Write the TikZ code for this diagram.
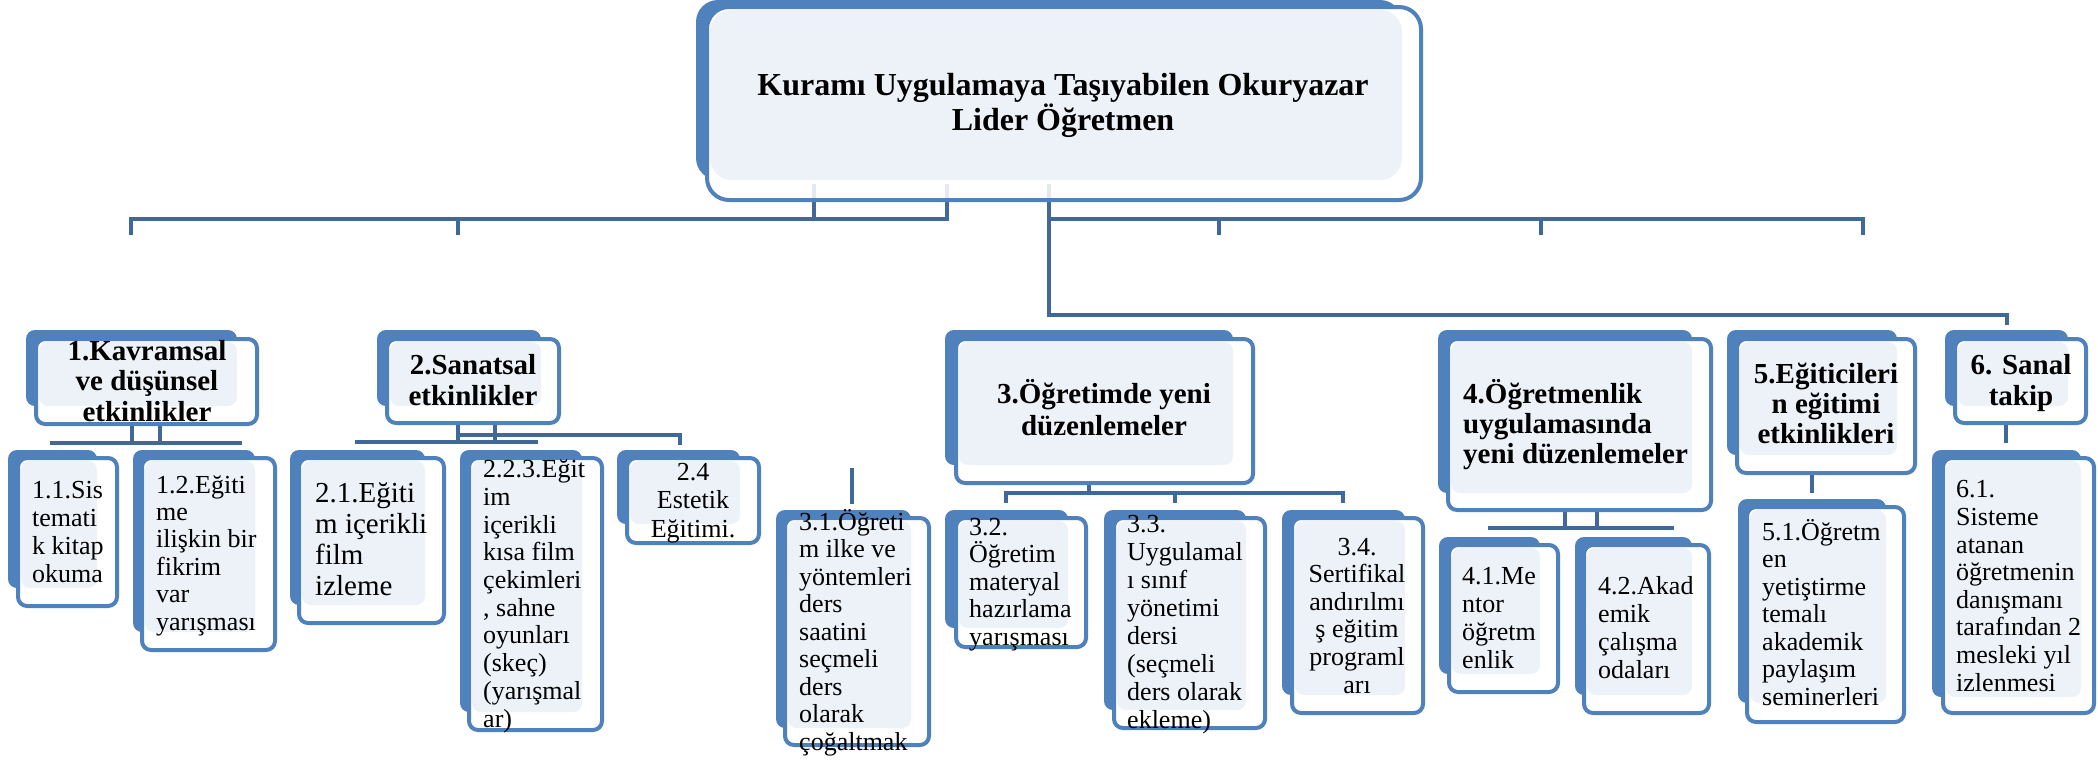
\documentclass[tikz,border=0pt]{standalone}
\usepackage{fontspec}
\setmainfont{Liberation Serif}
\definecolor{boxblue}{RGB}{79,129,189}
\definecolor{conn}{RGB}{64,104,153}
\definecolor{lightfill}{RGB}{237,241,248}
\definecolor{pale}{RGB}{226,233,243}
\def\bxr{9}
% #1 name, #2-#5 back box, #6-#9 outline box
\newcommand\smbox[9]{%
  \fill[boxblue, rounded corners=\bxr] (#2,#3) rectangle (#4,#5);
  \draw[boxblue, line width=4, fill=white, rounded corners=\bxr] (#6,#7) rectangle (#8,#9);
  \fill[lightfill, rounded corners=\bxr] (#6+3,#7+3) rectangle (#4,#5);
  \coordinate (#1-nw) at (#6,#7);
  \coordinate (#1-se) at (#8,#9);
}
% text nodes: anchor "base" = baseline of the LAST line
\tikzset{
  conline/.style={conn, line width=4.5},
  paleline/.style={pale, line width=4.5},
  head/.style={inner sep=0, align=center, anchor=base, font=\bfseries\fontsize{29}{30.5}\selectfont},
  headl/.style={inner sep=0, align=left, anchor=base west, font=\bfseries\fontsize{29}{30}\selectfont},
  sub/.style={inner sep=0, align=left, anchor=base west, font=\fontsize{26}{27.6}\selectfont},
  subc/.style={inner sep=0, align=center, anchor=base, font=\fontsize{26}{28}\selectfont},
}
\begin{document}
\begin{tikzpicture}[x=1pt,y=-1pt]
\useasboundingbox (0,0) rectangle (2098,761);
\fill[white] (0,0) rectangle (2098,761);

% ---------- connectors ----------
\draw[conline] (131,235) -- (131,219) -- (947,219) -- (947,199);
\draw[conline] (458,219) -- (458,235);
\draw[conline] (814,199) -- (814,219);
\draw[conline] (1049,199) -- (1049,315) -- (2007,315) -- (2007,325);
\draw[conline] (1049,219) -- (1863,219) -- (1863,235);
\draw[conline] (1219,219) -- (1219,235);
\draw[conline] (1541,219) -- (1541,235);

% ---------- top box ----------
\def\bxr{22}
\smbox{top}{696}{0}{1402}{180}{707}{7}{1421}{200}
\def\bxr{9}
\draw[paleline] (814,184) -- (814,198);
\draw[paleline] (947,184) -- (947,198);
\draw[paleline] (1049,184) -- (1049,198);
\node[inner sep=0, align=center, font=\bfseries\fontsize{32}{33}\selectfont, anchor=base] (ttop) at (1063,130)
  {Kuramı Uygulamaya Taşıyabilen Okuryazar\\Lider Öğretmen};

% ---------- group 1 ----------
\draw[conline] (132,424) -- (132,443);
\draw[conline] (160,424) -- (160,443);
\draw[conline] (50,443) -- (242,443);
\smbox{b1}{26}{330}{237}{406}{36}{339}{257}{424}
\node[head] (t1) at (147,421) {1.Kavramsal\\ve düşünsel\\etkinlikler};
\smbox{b11}{8}{450}{97}{588}{18}{458}{117}{606}
\node[sub, font=\fontsize{26}{28}\selectfont] (t11) at (32,582) {1.1.Sis\\temati\\k kitap\\okuma};
\smbox{b12}{133}{450}{255}{632}{142}{458}{275}{650}
\node[sub, font=\fontsize{26}{27.4}\selectfont] (t12) at (156,630) {1.2.Eğiti\\me\\ilişkin bir\\fikrim\\var\\yarışması};

% ---------- group 2 ----------
\draw[conline] (458,423) -- (458,442);
\draw[conline] (495,423) -- (495,442);
\draw[conline] (355,442) -- (538,442);
\draw[conline] (458,435) -- (680,435) -- (680,445);
\smbox{b2}{377}{330}{541}{406}{387}{339}{559}{423}
\node[head, font=\bfseries\fontsize{29}{31}\selectfont] (t2) at (473,405) {2.Sanatsal\\etkinlikler};
\smbox{b21}{290}{450}{425}{605}{299}{458}{444}{623}
\node[sub, font=\fontsize{29}{30.7}\selectfont] (t21) at (315,595) {2.1.Eğiti\\m içerikli\\film\\izleme};
\smbox{b223}{460}{450}{582}{712}{469}{458}{602}{730}
\node[sub, font=\fontsize{26}{27.7}\selectfont] (t223) at (483,727) {2.2.3.Eğit\\im\\içerikli\\kısa film\\çekimleri\\, sahne\\oyunları\\(skeç)\\(yarışmal\\ar)};
\smbox{b24}{617}{450}{740}{524}{627}{458}{759}{543}
\node[subc, font=\fontsize{26}{28.5}\selectfont] (t24) at (693,537) {2.4\\Estetik\\Eğitimi.};

% ---------- group 3 ----------
\draw[conline] (1089,483) -- (1089,493);
\draw[conline] (1006,503) -- (1006,493) -- (1343,493) -- (1343,503);
\draw[conline] (1175,493) -- (1175,503);
\draw[conline] (852,468) -- (852,504);
\smbox{b3}{945}{330}{1233}{465}{956}{339}{1253}{483}
\node[head, font=\bfseries\fontsize{29}{32}\selectfont] (t3) at (1104,435) {3.Öğretimde yeni\\düzenlemeler};
\smbox{b31}{776}{510}{911}{728}{785}{518}{929}{745}
\node[sub, font=\fontsize{26}{27.5}\selectfont] (t31) at (799,750) {3.1.Öğreti\\m ilke ve\\yöntemleri\\ders\\saatini\\seçmeli\\ders\\olarak\\çoğaltmak};
\smbox{b32}{945}{510}{1068}{628}{956}{518}{1086}{647}
\node[sub, font=\fontsize{26}{27.5}\selectfont] (t32) at (969,645) {3.2.\\Öğretim\\materyal\\hazırlama\\yarışması};
\smbox{b33}{1104}{510}{1246}{710}{1114}{518}{1265}{728}
\node[sub, font=\fontsize{26}{27.9}\selectfont] (t33) at (1127,728) {3.3.\\Uygulamal\\ı sınıf\\yönetimi\\dersi\\(seçmeli\\ders olarak\\ekleme)};
\smbox{b34}{1282}{510}{1405}{695}{1292}{518}{1423}{713}
\node[subc, font=\fontsize{26}{27.6}\selectfont] (t34) at (1357,693) {3.4.\\Sertifikal\\andırılmı\\ş eğitim\\programl\\arı};

% ---------- group 4 ----------
\draw[conline] (1565,510) -- (1565,528);
\draw[conline] (1597,510) -- (1597,528);
\draw[conline] (1488,528) -- (1674,528);
\smbox{b4}{1438}{330}{1692}{493}{1448}{339}{1711}{510}
\node[headl] (t4) at (1463,463) {4.Öğretmenlik\\uygulamasında\\yeni düzenlemeler};
\smbox{b41}{1439}{537}{1540}{674}{1449}{545}{1558}{692}
\node[sub, font=\fontsize{26}{27.7}\selectfont] (t41) at (1462,668) {4.1.Me\\ntor\\öğretm\\enlik};
\smbox{b42}{1575}{537}{1692}{695}{1584}{545}{1709}{713}
\node[sub, font=\fontsize{26}{27.7}\selectfont] (t42) at (1598,678) {4.2.Akad\\emik\\çalışma\\odaları};

% ---------- group 5 ----------
\draw[conline] (1812,473) -- (1812,493);
\smbox{b5}{1727}{330}{1897}{455}{1737}{339}{1915}{473}
\node[head, font=\bfseries\fontsize{29}{30}\selectfont] (t5) at (1826,443) {5.Eğiticileri\\n eğitimi\\etkinlikleri};
\smbox{b51}{1738}{499}{1886}{703}{1747}{507}{1904}{722}
\node[sub, font=\fontsize{26}{27.5}\selectfont] (t51) at (1762,705) {5.1.Öğretm\\en\\yetiştirme\\temalı\\akademik\\paylaşım\\seminerleri};

% ---------- group 6 ----------
\draw[conline] (2006,423) -- (2006,443);
\smbox{b6}{1945}{330}{2068}{406}{1955}{339}{2086}{423}
\node[head, font=\bfseries\fontsize{29}{31}\selectfont] (t6) at (2021,405) {6. Sanal\\takip};
\smbox{b61}{1932}{450}{2081}{697}{1943}{458}{2094}{713}
\node[sub, font=\fontsize{26}{27.6}\selectfont] (t61) at (1956,691) {6.1.\\Sisteme\\atanan\\öğretmenin\\danışmanı\\tarafından 2\\mesleki yıl\\izlenmesi};
\end{tikzpicture}
\end{document}
